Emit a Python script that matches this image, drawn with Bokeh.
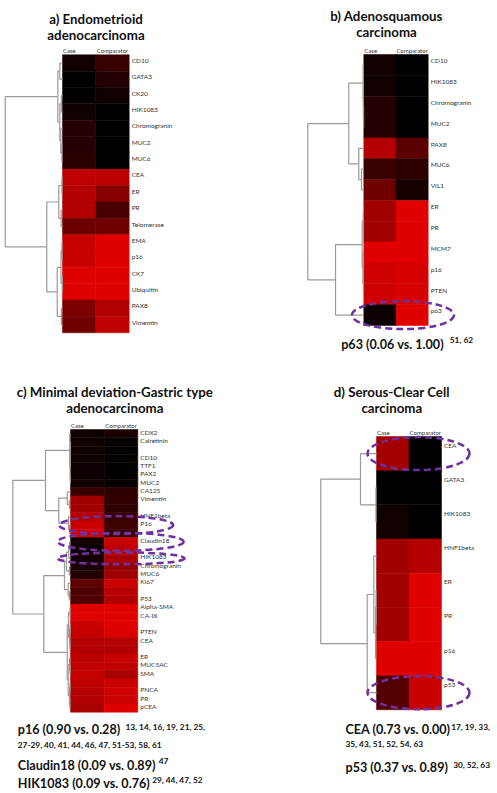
from bokeh.plotting import figure
from bokeh.models import Range1d, ColumnDataSource
from bokeh.embed import file_html
from bokeh.resources import INLINE
from bokeh.core.properties import value

# ---------------- DATA ----------------
a_markers = ["CD10", "GATA3", "CK20", "HIK1083", "Chromogranin", "MUC2", "MUC6", "CEA", "ER", "PR",
             "Telomerase", "EMA", "p16", "CK7", "Ubiquitin", "PAX8", "Vimentin"]
a_case = [0.08, 0.02, 0.02, 0.07, 0.17, 0.17, 0.19, 0.85, 0.80, 0.78, 0.47, 0.88, 0.90, 0.99, 0.99, 0.55, 0.50]
a_comp = [0.25, 0.15, 0.07, 0.00, 0.00, 0.00, 0.00, 0.83, 0.60, 0.32, 0.50, 1.00, 1.00, 1.00, 1.00, 0.78, 0.85]
a_tree = [1.0,
          [0.082, [0.047, 0, 1], [0.047, [0.02, 2, 3], [0.03, 4, [0.01, 5, 6]]]],
          [0.274, [0.065, [0.01, 7, 8], [0.023, 9, 10]],
           [0.092, [0.026, [0.01, 11, 12], [0.005, 13, 14]], [0.02, 15, 16]]]]

b_markers = ["CD10", "HIK1083", "Chromogranin", "MUC2", "PAX8", "MUC6", "VIL1", "ER", "PR", "MCM7",
             "p16", "PTEN", "p63"]
b_case = [0.08, 0.08, 0.17, 0.17, 0.80, 0.25, 0.50, 0.72, 0.72, 1.00, 0.92, 0.92, 0.06]
b_comp = [0.00, 0.00, 0.00, 0.00, 0.40, 0.20, 0.10, 1.00, 1.00, 1.00, 0.95, 0.95, 1.00]
b_tree = [1.0,
          [0.268, [0.012, 0, [0.008, 1, [0.004, 2, 3]]], [0.089, 4, [0.041, 5, 6]]],
          [0.505, [0.029, [0.01, 7, 8], [0.016, 9, [0.006, 10, 11]]], 12]]

c_markers = ["CDX2", "Calretinin", "", "CD10", "TTF1", "PAX2", "MUC2", "CA125", "Vimentin", "",
             "HNF1beta", "P16", "", "Claudin18", "", "HIK1083", "Chromogranin", "MUC6", "Ki67", "",
             "P53", "Alpha-SMA", "CA-IX", "", "PTEN", "CEA", "", "ER", "MUC5AC", "SMA",
             "", "PNCA", "PR", "pCEA"]
c_case = [0.07, 0.07, 0.07, 0.07, 0.06, 0.06, 0.07, 0.25, 0.72, 0.72,
          0.80, 0.90, 0.92, 0.09, 0.05, 0.09, 0.12, 0.15, 0.42, 0.35,
          0.35, 1.00, 1.00, 0.90, 0.88, 0.80, 0.80, 0.85, 0.85, 0.88,
          0.85, 0.80, 0.78, 0.75]
c_comp = [0.12, 0.03, 0.02, 0.02, 0.02, 0.02, 0.03, 0.20, 0.22, 0.20,
          0.25, 0.28, 0.25, 0.89, 0.85, 0.76, 0.65, 0.70, 0.90, 0.82,
          0.78, 1.00, 1.00, 1.00, 0.98, 0.80, 0.78, 0.88, 0.85, 0.75,
          0.90, 0.92, 0.90, 1.00]
c_tree = [1.0,
          [0.433,
           [0.012, 0, [0.007, [0.004, [0.002, 1, 2], [0.002, 3, 4]], [0.003, 5, 6]]],
           [0.203, [0.057, 7, [0.02, 8, 9]], [0.035, 10, [0.015, 11, 12]]]],
          [0.463,
           [0.104, [0.07, [0.03, [0.015, 13, 14], 15], [0.02, 16, 17]], [0.04, 18, [0.02, 19, 20]]],
           [0.057, [0.035, [0.01, 21, 22], [0.015, [0.008, 23, 24], [0.01, 25, 26]]],
            [0.04, [0.015, 27, [0.008, 28, 29]], [0.02, [0.01, 30, 31], [0.012, 32, 33]]]]]]

d_markers = ["CEA", "GATA3", "HIK1083", "HNF1beta", "ER", "PR", "p16", "p53"]
d_case = [0.73, 0.00, 0.07, 0.72, 0.72, 0.72, 1.00, 0.37]
d_comp = [0.00, 0.00, 0.00, 0.80, 1.00, 1.00, 1.00, 0.89]
d_tree = [1.0, [0.287, 0, [0.01, 1, 2]], [0.167, [0.048, 3, [0.018, [0.008, 4, 5], 6]], 7]]

columns = ["Case", "Comparator"]

a_title = ["a) Endometrioid", "adenocarcinoma"]
b_title = ["b) Adenosquamous", "carcinoma"]
c_title = ["c) Minimal deviation-Gastric type", "adenocarcinoma"]
d_title = ["d) Serous-Clear Cell", "carcinoma"]

b_highlight = ["p63"]
c_highlight = ["P16", "Claudin18", "HIK1083"]
d_highlight = ["CEA", "p53"]

b_notes = [("p63 (0.06 vs. 1.00)", "51, 62")]
c_notes = [("p16 (0.90 vs. 0.28)", "13, 14, 16, 19, 21, 25,"),
           ("", "27-29, 40, 41, 44, 46, 47, 51-53, 58, 61"),
           ("Claudin18 (0.09 vs. 0.89)", "47"),
           ("HIK1083 (0.09 vs. 0.76)", "29, 44, 47, 52")]
d_notes = [("CEA (0.73 vs. 0.00)", "17, 19, 33,"),
           ("", "35, 43, 51, 52, 54, 63"),
           ("p53 (0.37 vs. 0.89)", "30, 52, 63")]

# ---------------- LAYOUT ----------------
FIG_W, FIG_H = 497, 793
FONT = value("Lato")
RED_MAX = 225


def Y(y):
    return FIG_H - y


def red(v):
    return "#%02x0000" % int(round(v * RED_MAX))


panels = [
    dict(markers=a_markers, case=a_case, comp=a_comp, tree=a_tree, title=a_title,
         left=62, right=128.7, top=54.3, bottom=332.3, root=4.7, lab_off=-0.15,
         title_x=95.5, title_y=[18.8, 34.3], hl=[], hl_dx=[], hl_w=[], hl_h=[],
         notes=[], note_pos=[]),
    dict(markers=b_markers, case=b_case, comp=b_comp, tree=b_tree, title=b_title,
         left=363.3, right=427.7, top=54, bottom=325, root=307.3, lab_off=-0.2,
         title_x=386, title_y=[15.5, 31], hl=b_highlight, hl_dx=[7], hl_w=[102], hl_h=[28],
         notes=b_notes, note_pos=[(340.7, 344, 449.3, 339.5)]),
    dict(markers=c_markers, case=c_case, comp=c_comp, tree=c_tree, title=c_title,
         left=70, right=137.3, top=429, bottom=711.7, root=12.3, lab_off=-0.18,
         title_x=114.3, title_y=[391, 407.6], hl=c_highlight, hl_dx=[12, 16.5, 17],
         hl_w=[114, 126, 127], hl_h=[18, 18, 12],
         notes=c_notes, note_pos=[(17.3, 728.5, 125, 726), (17.3, 744, 17.3, 744),
                                  (17.3, 765, 158.3, 760), (17.3, 782.5, 151.7, 779)]),
    dict(markers=d_markers, case=d_case, comp=d_comp, tree=d_tree, title=d_title,
         left=376, right=441, top=436, bottom=709.3, root=320.3, lab_off=-0.25,
         title_x=391.3, title_y=[391, 407.3], hl=d_highlight, hl_dx=[9.5, 9.5],
         hl_w=[102, 102], hl_h=[33, 33],
         notes=d_notes, note_pos=[(345, 728.5, 450.7, 726), (345, 743.5, 345, 743.5),
                                  (345, 767, 452.7, 764)]),
]

p = figure(width=FIG_W, height=FIG_H, x_range=Range1d(0, FIG_W), y_range=Range1d(0, FIG_H),
           output_backend="svg", toolbar_location=None, x_axis_location=None,
           y_axis_location=None, min_border=0)
p.grid.visible = False
p.outline_line_color = None
p.background_fill_color = "white"
p.border_fill_color = "white"

cell = dict(x=[], y=[], w=[], h=[], c=[])
dxs, dys = [], []
lab = dict(x=[], y=[], t=[])
col = dict(x=[], y=[], t=[], a=[])
ttl = dict(x=[], y=[], t=[])
ell = dict(x=[], y=[], w=[], h=[])
big = dict(x=[], y=[], t=[])
sup = dict(x=[], y=[], t=[])

for P in panels:
    n = len(P["markers"])
    rh = (P["bottom"] - P["top"]) / n
    cw = (P["right"] - P["left"]) / 2
    dw = P["left"] - P["root"]

    def rowc(i, P=P, rh=rh):
        return P["top"] + rh * (i + 0.5)

    for i in range(n):
        for j, vals in enumerate([P["case"], P["comp"]]):
            cell["x"].append(P["left"] + cw * (j + 0.5))
            cell["y"].append(Y(rowc(i)))
            cell["w"].append(cw)
            cell["h"].append(rh)
            cell["c"].append(red(vals[i]))
        lab["x"].append(P["right"] + 2.5)
        lab["y"].append(Y(rowc(i) + P["lab_off"] * rh))
        lab["t"].append(P["markers"][i])

    col["x"] += [P["left"] + 0.5, P["left"] + cw * 1.5]
    col["y"] += [Y(P["top"] - 4.5)] * 2
    col["t"] += columns
    col["a"] += ["left", "center"]

    def walk(node, P=P, dw=dw):
        if isinstance(node, int):
            return P["left"], rowc(node)
        h, l, r = node
        x = P["left"] - h * dw
        xl, yl = walk(l)
        xr, yr = walk(r)
        dxs.append([xl, x, x, xr])
        dys.append([Y(yl), Y(yl), Y(yr), Y(yr)])
        return x, (yl + yr) / 2

    walk(P["tree"])

    for t, ty in zip(P["title"], P["title_y"]):
        ttl["x"].append(P["title_x"])
        ttl["y"].append(Y(ty))
        ttl["t"].append(t)

    for k, name in enumerate(P["hl"]):
        i = P["markers"].index(name)
        ell["x"].append((P["left"] + P["right"]) / 2 + P["hl_dx"][k])
        ell["y"].append(Y(rowc(i)))
        ell["w"].append(P["hl_w"][k])
        ell["h"].append(P["hl_h"][k])

    for (main, s), (mx, my, sx, sy) in zip(P["notes"], P["note_pos"]):
        if main:
            big["x"].append(mx)
            big["y"].append(Y(my))
            big["t"].append(main)
        sup["x"].append(sx)
        sup["y"].append(Y(sy))
        sup["t"].append(s)

cs = ColumnDataSource(cell)
p.rect(x="x", y="y", width="w", height="h", fill_color="c", line_color="c", line_width=0.5, source=cs)
p.multi_line(xs=dxs, ys=dys, line_color="#9a9a9a", line_width=1.2)
p.text(x="x", y="y", text="t", source=ColumnDataSource(lab), text_font=FONT,
       text_font_size="6.5px", text_baseline="middle", text_align="left", text_color="#333333")
p.text(x="x", y="y", text="t", text_align="a", source=ColumnDataSource(col), text_font=FONT,
       text_font_size="6px", text_baseline="middle", text_color="#333333")
p.text(x="x", y="y", text="t", source=ColumnDataSource(ttl), text_font=FONT,
       text_font_size="13.3px", text_font_style="bold", text_align="center",
       text_baseline="alphabetic", text_color="#111111")
p.ellipse(x="x", y="y", width="w", height="h", source=ColumnDataSource(ell), fill_color=None,
          line_color="#7030A0", line_width=2.5, line_dash="7 4")
p.text(x="x", y="y", text="t", source=ColumnDataSource(big), text_font=FONT,
       text_font_size="12.6px", text_font_style="bold", text_align="left",
       text_baseline="alphabetic", text_color="#111111")
p.text(x="x", y="y", text="t", source=ColumnDataSource(sup), text_font=FONT,
       text_font_size="8.3px", text_font_style="bold", text_align="left",
       text_baseline="alphabetic", text_color="#111111")

open("out.html", "w").write(file_html(p, INLINE))
